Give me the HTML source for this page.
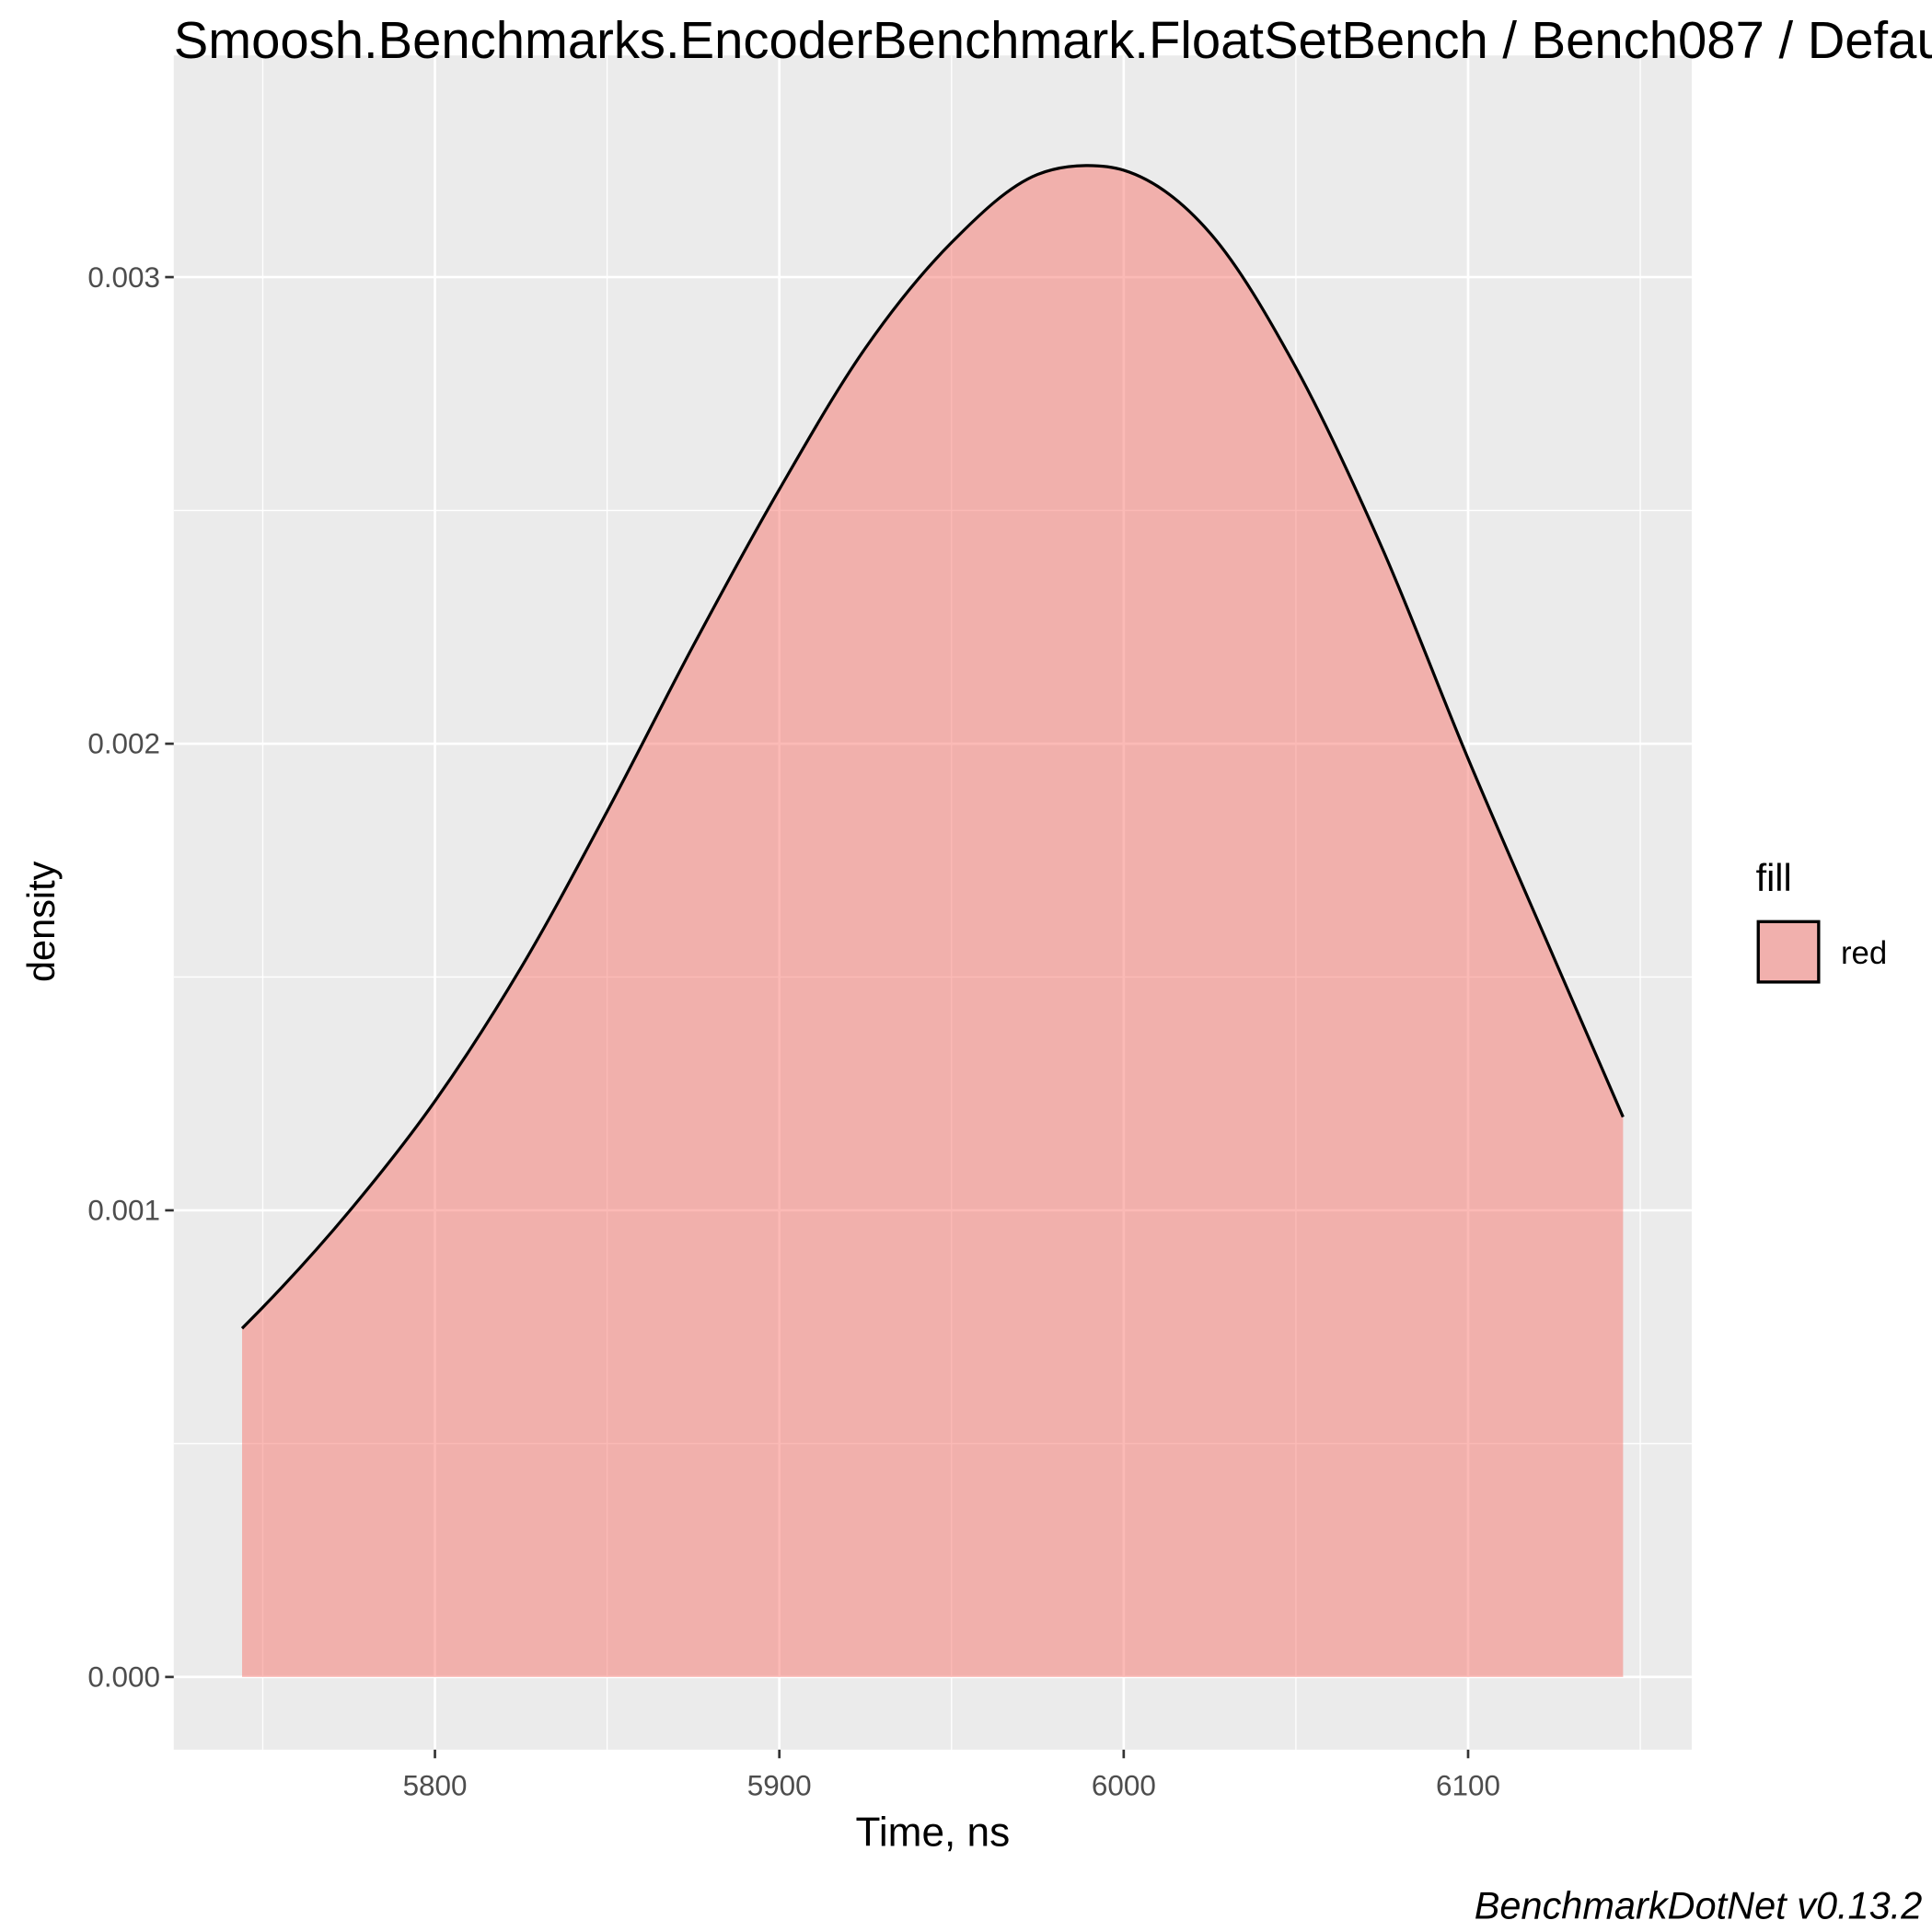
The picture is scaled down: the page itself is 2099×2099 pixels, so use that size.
<!DOCTYPE html>
<html><head><meta charset="utf-8"><style>
html,body{margin:0;padding:0;background:#fff}
svg{display:block;font-family:"Liberation Sans",Arial,sans-serif}
</style></head><body>
<svg id="chart" width="2099" height="2099" viewBox="0 0 1568 1568" xmlns="http://www.w3.org/2000/svg">
<rect x="0" y="0" width="1568" height="1568" fill="#fff"/>
<rect x="141" y="45" width="1232" height="1375" fill="#EBEBEB"/>
<g id="grid"></g>
<g id="marks"></g>
<g id="axes"></g>
<text x="141" y="47" font-size="42" fill="#000">Smoosh.Benchmarks.EncoderBenchmark.FloatSetBench / Bench087 / Default</text>
<text x="757" y="1498" font-size="33" text-anchor="middle">Time, ns</text>
<text transform="translate(44,748) rotate(-90)" font-size="31" text-anchor="middle">density</text>
<g>
<text x="1425" y="723" font-size="31">fill</text>
<rect x="1427" y="748" width="49" height="49" fill="#F1B0AD" stroke="#000" stroke-width="2.5"/>
<text x="1494" y="782" font-size="26">red</text>
</g>
<text x="1560" y="1557" font-size="31" font-style="italic" text-anchor="end">BenchmarkDotNet v0.13.2</text>
</svg>
<script>
const xTicks=[5800,5900,6000,6100];
const xMinor=[5750,5850,5950,6050,6150];
const yTicks=[0,0.001,0.002,0.003];
const yTickLabels=["0.000","0.001","0.002","0.003"];
const yMinor=[0.0005,0.0015,0.0025];
const times=[5744,5750,5775,5800,5825,5850,5875,5900,5925,5950,5975,5989,6000,6025,6050,6075,6100,6125,6145];
const density=[0.000747,0.000792,0.000997,0.001234,0.00152,0.001855,0.00221,0.002545,0.002848,0.003074,0.00322,0.003239,0.003229,0.003095,0.002806,0.00242,0.001968,0.00154,0.0012];

const NS="http://www.w3.org/2000/svg";
const xs=v=>353+(v-5800)*2.795;
const ys=v=>1361-v*378700;
function mk(tag,attrs,parent){const e=document.createElementNS(NS,tag);for(const k in attrs)e.setAttribute(k,attrs[k]);parent.appendChild(e);return e;}
const grid=document.getElementById('grid'),marks=document.getElementById('marks'),axes=document.getElementById('axes');
xMinor.forEach(v=>{const l=mk('line',{x1:xs(v),x2:xs(v),y1:45,y2:1420,stroke:'#fff','stroke-width':1},grid);

});
yMinor.forEach(v=>{const l=mk('line',{x1:141,x2:1373,y1:ys(v),y2:ys(v),stroke:'#fff','stroke-width':1},grid);

});
xTicks.forEach(v=>{const l=mk('line',{x1:xs(v),x2:xs(v),y1:45,y2:1420,stroke:'#fff','stroke-width':2},grid);


const t=mk('line',{x1:xs(v),x2:xs(v),y1:1420,y2:1427,stroke:'#333','stroke-width':2},axes);


const tx=mk('text',{x:xs(v),y:1457,'font-size':23.5,fill:'#4D4D4D','text-anchor':'middle'},axes);tx.textContent=v;

});
yTicks.forEach((v,i)=>{const l=mk('line',{x1:141,x2:1373,y1:ys(v),y2:ys(v),stroke:'#fff','stroke-width':2},grid);


const t=mk('line',{x1:134,x2:141,y1:ys(v),y2:ys(v),stroke:'#333','stroke-width':2},axes);


const tx=mk('text',{x:130,y:ys(v)+8,'font-size':23.5,fill:'#4D4D4D','text-anchor':'end'},axes);tx.textContent=yTickLabels[i];

});
const P=times.map((t,i)=>[xs(t),ys(density[i])]);
const n=P.length,m=[];
for(let i=0;i<n;i++){
  if(i===0) m[i]=(P[1][1]-P[0][1])/(P[1][0]-P[0][0]);
  else if(i===n-1) m[i]=(P[n-1][1]-P[n-2][1])/(P[n-1][0]-P[n-2][0]);
  else{const h0=P[i][0]-P[i-1][0],h1=P[i+1][0]-P[i][0];
    const s0=(P[i][1]-P[i-1][1])/h0,s1=(P[i+1][1]-P[i][1])/h1;
    m[i]=(h1*s0+h0*s1)/(h0+h1);}
}
let d='M'+P[0][0]+','+P[0][1];
for(let i=0;i<n-1;i++){const dx=(P[i+1][0]-P[i][0])/3;
d+=` C${P[i][0]+dx},${P[i][1]+m[i]*dx} ${P[i+1][0]-dx},${P[i+1][1]-m[i+1]*dx} ${P[i+1][0]},${P[i+1][1]}`;}
const area=mk('path',{d:d+` L${P[n-1][0]},${ys(0)} L${P[0][0]},${ys(0)} Z`,fill:'#F8766D','fill-opacity':0.5},marks);


const line=mk('path',{d:d,fill:'none',stroke:'#000','stroke-width':2.4},marks);


</script>
</body></html>
